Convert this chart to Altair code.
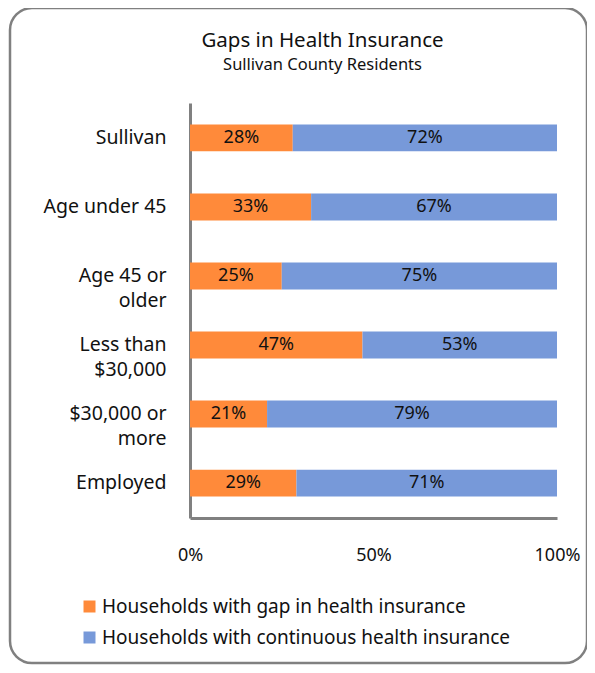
import altair as alt
import pandas as pd

categories = ["Sullivan", "Age under 45", "Age 45 or|older", "Less than|$30,000", "$30,000 or|more", "Employed"]
gap_values = [28, 33, 25, 47, 21, 29]
continuous_values = [72, 67, 75, 53, 79, 71]
series_names = ["Households with gap in health insurance", "Households with continuous health insurance"]
series_colors = ["#FF8A3A", "#7799D9"]
x_ticks = [0, 0.5, 1]

rows = []
for i, c in enumerate(categories):
    rows.append({"cat": c, "series": series_names[0], "value": gap_values[i] / 100, "order": 0})
    rows.append({"cat": c, "series": series_names[1], "value": continuous_values[i] / 100, "order": 1})
df = pd.DataFrame(rows)

FONT = "Noto Sans"
PW, PH = 367, 415

base = alt.Chart(df).transform_stack(
    stack="value", groupby=["cat"], as_=["x0", "x1"], sort=[alt.SortField("order")]
).transform_calculate(
    mid="(datum.x0 + datum.x1) / 2",
    label="format(datum.value, '.0%')",
)

y_enc = alt.Y(
    "cat:N",
    sort=categories,
    title=None,
    scale=alt.Scale(paddingInner=0.61, paddingOuter=0.31),
    axis=alt.Axis(
        ticks=False,
        domainColor="#808080",
        domainWidth=3,
        labelFont=FONT,
        labelFontSize=19.5,
        labelColor="#111111",
        labelPadding=24,
        labelLimit=200,
        labelLineHeight=25,
        labelExpr="split(datum.label, '|')",
    ),
)

bars = base.mark_bar().encode(
    y=y_enc,
    x=alt.X(
        "x0:Q",
        title=None,
        scale=alt.Scale(domain=[0, 1], nice=False),
        axis=alt.Axis(
            values=x_ticks,
            format=".0%",
            ticks=False,
            grid=False,
            domainColor="#808080",
            domainWidth=3,
            labelFont=FONT,
            labelFontSize=18,
            labelColor="#111111",
            labelPadding=28,
            labelFlush=False,
        ),
    ),
    x2="x1:Q",
    color=alt.Color(
        "series:N",
        sort=series_names,
        scale=alt.Scale(domain=series_names, range=series_colors),
        legend=alt.Legend(
            title=None,
            orient="none",
            legendX=-110,
            legendY=494,
            direction="vertical",
            symbolType="square",
            symbolSize=144,
            symbolStrokeWidth=0,
            labelFont=FONT,
            labelFontSize=19,
            labelColor="#111111",
            labelOffset=3,
            rowPadding=11,
            labelLimit=500,
        ),
    ),
)

texts = base.mark_text(font=FONT, fontSize=18, color="#111111").encode(
    y=alt.Y("cat:N", sort=categories),
    x=alt.X("mid:Q"),
    text="label:N",
)

frame = alt.Chart(pd.DataFrame({"a": [0]})).mark_rect(
    fill=None, stroke="#808080", strokeWidth=2.5, cornerRadius=22
).encode(
    x=alt.value(-180), x2=alt.value(397), y=alt.value(-95), y2=alt.value(560)
)

chart = alt.layer(frame, bars, texts).properties(
    width=PW,
    height=PH,
    background="white",
    padding={"left": 182, "top": 95, "right": 30, "bottom": 147},
    autosize=alt.AutoSizeParams(type="none"),
    title=alt.TitleParams(
        text="Gaps in Health Insurance",
        subtitle="Sullivan County Residents",
        anchor="middle",
        frame="group",
        dx=-51,
        offset=-67,
        font=FONT,
        fontSize=20.5,
        fontWeight="normal",
        color="#111111",
        subtitleFont=FONT,
        subtitleFontSize=16.5,
        subtitleColor="#111111",
        subtitlePadding=6,
    ),
).configure_view(stroke="transparent", strokeWidth=0)

chart.save("out.html", embed_options={"renderer": "svg", "actions": False})
